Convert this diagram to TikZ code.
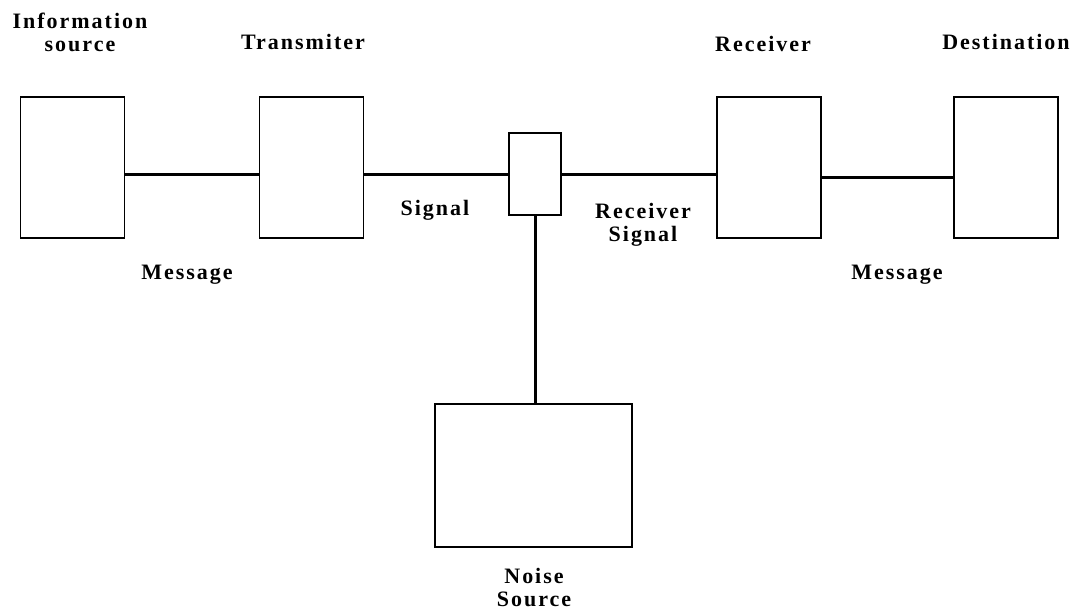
\documentclass[tikz,border=0pt]{standalone}
\usepackage{fontspec}
\setmainfont{Liberation Serif}[LetterSpace=9]
\usepackage{tikz}

\begin{document}
\begin{tikzpicture}[x=0.5pt,y=-0.5pt,
  block/.style={draw=black,line width=0.6pt,inner sep=0pt,minimum width=52pt,minimum height=70.5pt},
  link/.style={line width=1.5pt},
  lbl/.style={inner sep=0pt,align=center,font=\fontsize{11}{11.5}\selectfont\bfseries}]
\useasboundingbox (0,0) rectangle (1074,611);
% boxes
\node [block] (src) at (72.5,167.5) {};
\node [block] (tx) at (311.5,167.5) {};
\node [block,minimum width=26pt,minimum height=41pt] (mix) at (535,174) {};
\node [block] (rx) at (769,167.5) {};
\node [block] (dst) at (1006,167.5) {};
\node [block,minimum width=98.5pt,minimum height=71.5pt] (noise) at (533.5,475.5) {};
% connectors
\draw [link] (src.east |- mix.west) -- (tx.west |- mix.west);
\draw [link] (tx.east |- mix.west) -- (mix.west);
\draw [link] (mix.east) -- (rx.west |- mix.east);
\draw [link] ([yshift=-1.5pt]rx.east |- mix.east) -- ([yshift=-1.5pt]dst.west |- mix.east);
\draw [link] (mix.south) -- (mix.south |- noise.north);
% labels
\node [lbl] (srclbl) at (80,32) {Information\\source};
\node [lbl] (txlbl) at (303,42) {Transmiter};
\node [lbl] (rxlbl) at (763,44) {Receiver};
\node [lbl] (dstlbl) at (1006,42) {Destination};
\node [lbl] (siglbl) at (435,210) {Signal};
\node [lbl] (rsiglbl) at (643,225) {Receiver\\Signal};
\node [lbl] (msg1) at (187,275) {Message};
\node [lbl] (msg2) at (897,275) {Message};
\node [lbl] (noiselbl) at (534,587) {Noise\\Source};
\end{tikzpicture}
\end{document}
